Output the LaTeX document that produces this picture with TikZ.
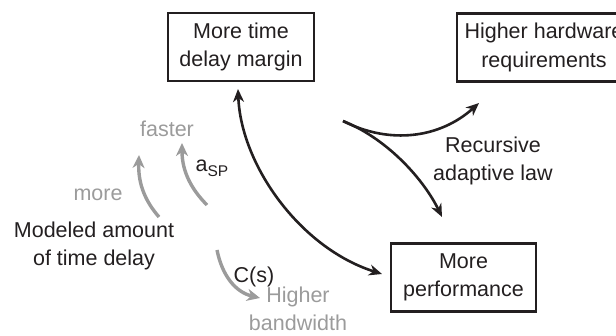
\documentclass[tikz,border=0pt]{standalone}
\usepackage{fontspec}
\setmainfont{Liberation Sans}
\usetikzlibrary{arrows.meta}
\definecolor{ink}{HTML}{231F20}
\definecolor{soft}{HTML}{9B9B9B}
\begin{document}
\begin{tikzpicture}[x=1pt,y=-1pt,
  every node/.style={font=\fontsize{21.5}{28.5}\selectfont, align=center, text=ink, inner sep=0pt},
  box/.style={draw=ink, line width=2.6pt, minimum height=68pt},
  graytxt/.style={text=soft},
  blk/.style={draw=ink, line width=2.6pt, -{Stealth[length=13pt,width=11pt,inset=4pt]}},
  gry/.style={draw=soft, line width=3.4pt, -{Stealth[length=13pt,width=12pt,inset=4pt]}}]
\clip (0,0) rectangle (616,336);
\node[box, minimum width=146pt] (tdm) at (241,47) {More time\\delay margin};
\node[box, minimum width=174pt] (hw) at (544,47.5) {Higher hardware\\requirements};
\node[box, minimum width=145pt] (perf) at (463.5,277.5) {More\\performance};
\node[graytxt] (faster) at (167,129) {faster};
\node[graytxt] (more) at (98,195) {more};
\node (asp) at (212,168) {a\raisebox{-5pt}{\fontsize{15.5}{15.5}\selectfont SP}};
\node (mod) at (94,246) {Modeled amount\\of time delay};
\node (cs) at (254,277) {C(s)};
\node[graytxt] (bw) at (298,309) {Higher\\bandwidth};
\node (ral) at (493,161) {Recursive\\adaptive law};
\coordinate (dA) at (238,89);
\coordinate (dB) at (382,274);
\draw[blk, {Stealth[length=13pt,width=11pt,inset=4pt]}-{Stealth[length=13pt,width=11pt,inset=4pt]}] (dA) .. controls (241,165) and (300,248) .. (dB);
\coordinate (rS) at (343,121);
\coordinate (rH) at (479,103);
\coordinate (rP) at (442,217);
\draw[blk] (rS) .. controls (390,145) and (440,138) .. (rH);
\draw[blk] (rS) .. controls (390,140) and (425,182) .. (rP);
\coordinate (g1s) at (159,217);
\coordinate (g1e) at (139,155);
\coordinate (g2s) at (207,205);
\coordinate (g2e) at (182,143);
\coordinate (g3s) at (217,250);
\coordinate (g3e) at (260,298);
\draw[gry] (g1s) .. controls (146,202) and (138,185) .. (g1e);
\draw[gry] (g2s) .. controls (192,190) and (182,172) .. (g2e);
\draw[gry] (g3s) .. controls (222,275) and (235,292) .. (g3e);
\end{tikzpicture}
\end{document}
